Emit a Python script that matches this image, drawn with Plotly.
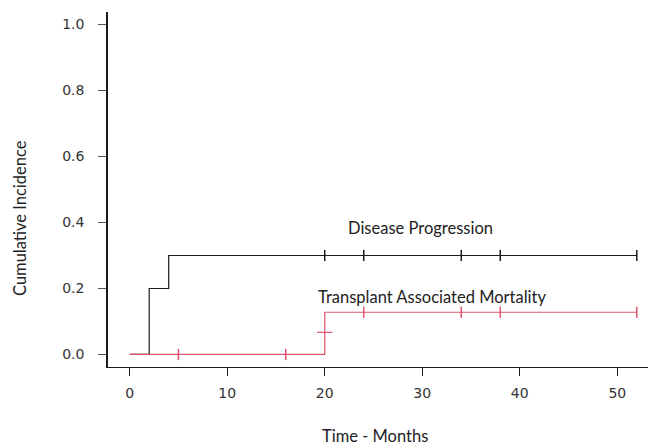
import plotly.graph_objects as go

# Disease progression (black) step curve
dp_time = [0, 2, 4, 52]
dp_inc = [0.0, 0.2, 0.3, 0.3]
dp_cens_time = [20, 24, 34, 38, 52]
dp_cens_inc = [0.3, 0.3, 0.3, 0.3, 0.3]

# Transplant associated mortality (red) step curve
tam_time = [0, 20, 52]
tam_inc = [0.0, 0.128, 0.128]
tam_cens_time = [5, 16, 24, 34, 38, 52]
tam_cens_inc = [0.0, 0.0, 0.128, 0.128, 0.128, 0.128]
tam_mid_time = [20]
tam_mid_inc = [0.067]

x_ticks = [0, 10, 20, 30, 40, 50]
y_ticks = [0.0, 0.2, 0.4, 0.6, 0.8, 1.0]
y_ticklabels = ["0.0", "0.2", "0.4", "0.6", "0.8", "1.0"]

BLACK = "#1a1a1a"
RED = "#DF536B"

fig = go.Figure()
fig.add_trace(go.Scatter(x=dp_time, y=dp_inc, mode="lines", line=dict(color=BLACK, width=1.2, shape="hv"),
                         showlegend=False, hoverinfo="skip"))
fig.add_trace(go.Scatter(x=dp_cens_time, y=dp_cens_inc, mode="markers",
                         marker=dict(symbol="line-ns", size=8, line=dict(color=BLACK, width=1.5)),
                         showlegend=False, hoverinfo="skip"))
fig.add_trace(go.Scatter(x=tam_time, y=tam_inc, mode="lines", line=dict(color=RED, width=1.2, shape="hv"),
                         showlegend=False, hoverinfo="skip"))
fig.add_trace(go.Scatter(x=tam_cens_time, y=tam_cens_inc, mode="markers",
                         marker=dict(symbol="line-ns", size=8, line=dict(color=RED, width=1.5)),
                         showlegend=False, hoverinfo="skip"))
fig.add_trace(go.Scatter(x=tam_mid_time, y=tam_mid_inc, mode="markers",
                         marker=dict(symbol="line-ew", size=11, line=dict(color=RED, width=1.2)),
                         showlegend=False, hoverinfo="skip"))

tickfont = dict(family="DejaVu Sans", size=14, color="#333333")
fig.update_xaxes(range=[-2.225, 53.97], tickvals=x_ticks, ticks="outside", ticklen=8, tickwidth=1.3,
                 tickcolor=BLACK, showline=True, linecolor=BLACK, linewidth=1.3, showgrid=False,
                 zeroline=False, tickfont=tickfont, ticklabelstandoff=5)
fig.update_yaxes(range=[-0.038, 1.038], tickvals=y_ticks, ticktext=y_ticklabels, ticks="outside", ticklen=8,
                 tickwidth=1, tickcolor="#555555", showline=True, linecolor=BLACK, linewidth=1.5,
                 showgrid=False, zeroline=False, tickfont=tickfont, ticklabelstandoff=11)

# page has an 8px body margin: compensate so the plot lands at the reference position
OFF = 8
W, H = 656 - OFF, 447 - OFF
L, R, T, B = 108 - OFF, 0, 12 - OFF, 80
fig.update_layout(
    width=W, height=H,
    margin=dict(l=L, r=R, t=T, b=B),
    plot_bgcolor="white", paper_bgcolor="white",
)

def px(xp):
    return (xp - OFF - L) / (W - L - R)
def py(yp):
    return (H - B - (yp - OFF)) / (H - T - B)

afont = dict(family="Lato", size=16.5, color="#222222")
fig.add_annotation(x=px(420.5), y=py(228), xref="paper", yref="paper", text="Disease Progression",
                   showarrow=False, font=afont, xanchor="center", yanchor="middle")
fig.add_annotation(x=px(318), y=py(297), xref="paper", yref="paper", text="Transplant Associated Mortality",
                   showarrow=False, font=afont, xanchor="left", yanchor="middle", xshift=-2)
fig.add_annotation(x=px(375), y=py(436), xref="paper", yref="paper", text="Time - Months",
                   showarrow=False, font=afont, xanchor="center", yanchor="middle")
fig.add_annotation(x=px(20), y=py(218), xref="paper", yref="paper", text="Cumulative Incidence",
                   showarrow=False, font=afont, xanchor="center", yanchor="middle", textangle=-90)

fig.write_html("out.html")
